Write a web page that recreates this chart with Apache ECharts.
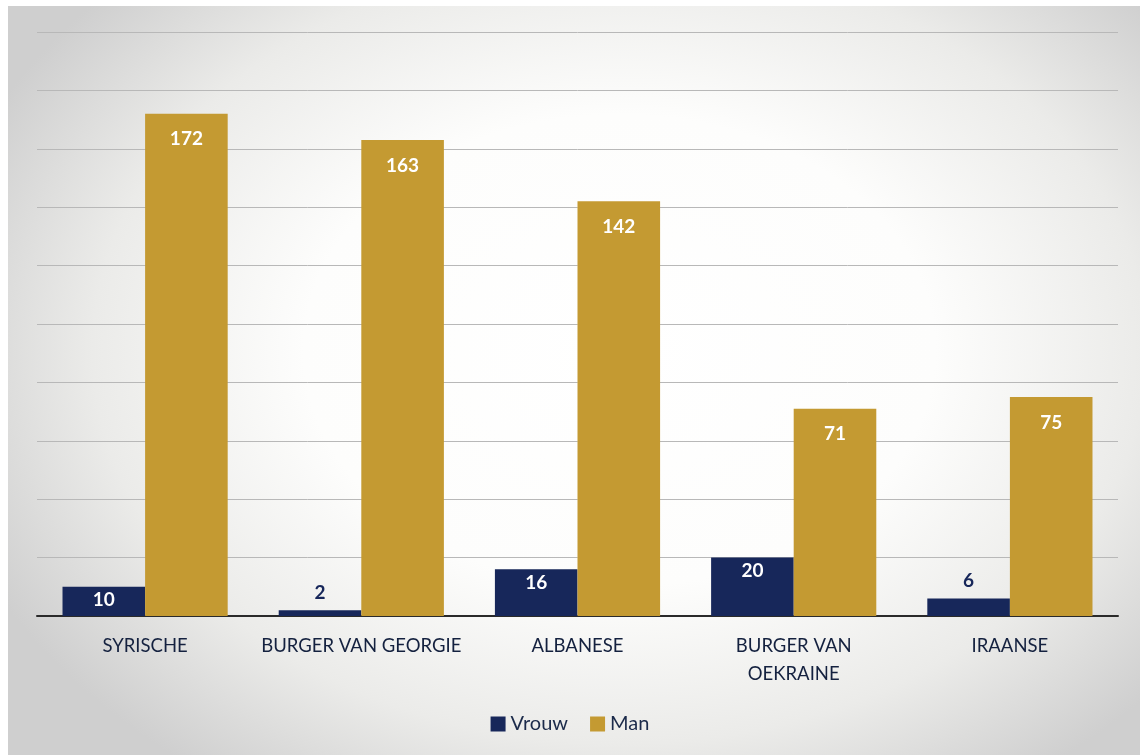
<!DOCTYPE html>
<html>
<head>
<meta charset="utf-8">
<script src="https://cdn.jsdelivr.net/npm/echarts@6/dist/echarts.min.js"></script>
<style>
html,body{margin:0;padding:0;background:#fff;}
#wrap{position:absolute;left:8px;top:6px;width:1132px;height:749px;
background:radial-gradient(ellipse 62% 70% at 54% 46%, #ffffff 0%, #fdfdfc 45%, #ebebe9 75%, #cfcfcf 100%);}
#chart{position:absolute;left:0;top:0;width:1140px;height:755px;}
</style>
</head>
<body>
<div id="wrap"></div>
<div id="chart"></div>
<script>
const categories = ['SYRISCHE', 'BURGER VAN GEORGIE', 'ALBANESE', 'BURGER VAN\nOEKRAINE', 'IRAANSE'];
const vrouw = [10, 2, 16, 20, 6];
const man = [172, 163, 142, 71, 75];
const NAVY = '#17275a';
const GOLD = '#c49a32';

const chart = echarts.init(document.getElementById('chart'));
const vrouwData = vrouw.map(v => v < 8 ? {
  value: v,
  label: { position: 'top', distance: 8, color: NAVY }
} : v);

chart.setOption({
  backgroundColor: 'transparent',
  animation: false,
  grid: { left: 37, right: 22, top: 32, bottom: 139, containLabel: false },
  legend: {
    bottom: 16, left: 'center',
    itemWidth: 15, itemHeight: 15, itemGap: 22,
    icon: 'rect',
    textStyle: { fontFamily: 'Lato', fontSize: 20, color: '#1b2a4a' },
    data: ['Vrouw', 'Man']
  },
  xAxis: {
    type: 'category',
    data: categories,
    axisLine: { lineStyle: { color: '#2a2a2a', width: 2 } },
    axisTick: { show: false },
    axisLabel: { fontFamily: 'Lato', fontSize: 18.5, color: '#14213f', margin: 16, lineHeight: 28, interval: 0 }
  },
  yAxis: {
    type: 'value', min: 0, max: 200, interval: 20,
    axisLabel: { show: false },
    axisLine: { show: false },
    axisTick: { show: false },
    splitLine: { lineStyle: { color: '#b8b8b8', width: 1 } }
  },
  series: [
    {
      name: 'Vrouw', type: 'bar', data: vrouwData,
      itemStyle: { color: NAVY },
      barGap: '0%', barCategoryGap: '23.6%',
      label: { show: true, position: 'insideTop', distance: 4, color: '#ffffff',
        fontFamily: 'Lato', fontWeight: 'bold', fontSize: 19 }
    },
    {
      name: 'Man', type: 'bar', data: man,
      itemStyle: { color: GOLD },
      barGap: '0%', barCategoryGap: '23.6%',
      label: { show: true, position: 'insideTop', distance: 16, color: '#ffffff',
        fontFamily: 'Lato', fontWeight: 'bold', fontSize: 19 }
    }
  ]
});
</script>
</body>
</html>
